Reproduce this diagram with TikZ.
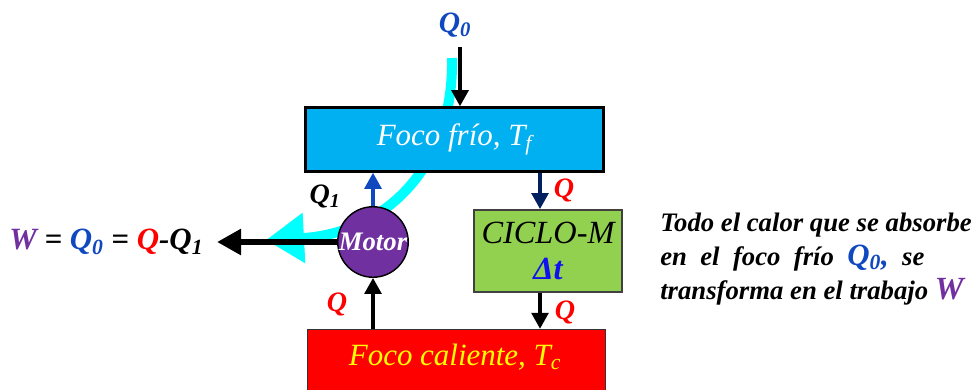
\documentclass[tikz,border=0pt]{standalone}
\usepackage{fontspec}
\setmainfont{Liberation Serif}
\usetikzlibrary{arrows.meta, positioning}
\definecolor{cFrio}{HTML}{00B0F0}
\definecolor{cCaliente}{HTML}{FF0000}
\definecolor{cCiclo}{HTML}{92D050}
\definecolor{cMotor}{HTML}{7030A0}
\definecolor{cAzul}{HTML}{1048C0}
\definecolor{cDelta}{HTML}{1010F0}
\definecolor{cMarino}{HTML}{002060}
\definecolor{cFlujo}{HTML}{00FFFF}
\definecolor{cAmarillo}{HTML}{FFFF00}
\tikzset{
  foco/.style={draw, line width=1.8pt, minimum width=7.45cm, minimum height=1.6cm,
               inner sep=0pt, font=\fontsize{22}{26}\selectfont\itshape},
  ciclobox/.style={draw=black!75, line width=1.3pt, fill=cCiclo, minimum width=3.7cm,
                   minimum height=2.05cm, inner sep=0pt, align=center,
                   font=\fontsize{23}{28}\selectfont\itshape},
  motorcirc/.style={draw, circle, line width=1pt, fill=cMotor, minimum size=1.75cm,
                    inner sep=0pt, text=white, font=\fontsize{19}{22}\selectfont\bfseries\itshape},
  etq/.style={font=\fontsize{20}{24}\selectfont\bfseries\itshape, inner sep=0pt},
  flecha/.style={line width=2.4pt, -{Triangle[length=0.4cm, width=0.42cm]}},
}
\begin{document}
\begin{tikzpicture}[x=0.025cm, y=-0.025cm]
    \useasboundingbox (0,0) rectangle (978,389);
    % flujo de calor (banda)
    \coordinate (flujoIni) at (452,58);
    \coordinate (flujoFin) at (266,240);
    \draw[cFlujo, line width=0.25cm, -{Triangle[length=0.95cm, width=1.2cm]}]
      (flujoIni) .. controls (454,172) and (380,234) .. (flujoFin);
    % focos y ciclo
    \node[foco, fill=cFrio, text=white] (frio) at (454.5,139.5) {Foco frío, T\textsubscript{\itshape f}};
    \node[foco, fill=cCaliente, text=cAmarillo, line width=1pt, draw=black!80] (caliente) at (456.5,361.5) {};
    \node[text=cAmarillo, font=\fontsize{22}{26}\selectfont\itshape] (calTxt) at (455,357) {Foco caliente, T\textsubscript{\itshape c}};
    \node[ciclobox] (ciclo) at (548,251) {CICLO-M\\[-2pt]{\color{cDelta}\bfseries Δt}};
    \node[motorcirc] (motor) at (373,242) {Motor};
    % etiquetas
    \node[etq, text=cAzul, font=\fontsize{21}{24}\selectfont\bfseries\itshape] (q0) at (455,25) {Q\textsubscript{0}};
    \node[etq] (q1) at (325,196) {Q\textsubscript{1}};
    \node[etq, text=red] (qMot) at (337,304) {Q};
    \node[etq, text=red] (qCicA) at (564,190) {Q};
    \node[etq, text=red] (qCicB) at (565,312) {Q};
    \node[anchor=west, inner sep=0pt, font=\fontsize{22}{24}\selectfont\bfseries\itshape] (trabajo) at (9,242)
      {{\color{cMotor}W} = {\color{cAzul}Q\textsubscript{0}} = {\color{red}Q}-Q\textsubscript{1}};
    \node[anchor=north west, inner sep=0pt, align=left,
          font=\fontsize{19}{24}\selectfont\bfseries\itshape] (texto) at (660,213)
      {Todo el calor que se absorbe\\
       en\ \ el\ \ foco\ \ frío\ \ {\fontsize{22}{24}\selectfont\color{cAzul}Q\textsubscript{0},}\ \ se\\
       transforma en el trabajo {\fontsize{23}{24}\selectfont\color{cMotor}W}};
    % flechas
    \coordinate (entra) at (460,47);
    \coordinate (salida) at (217,242);
    \draw[flecha] (entra) -- (entra |- frio.north);
    \draw[flecha, cAzul] (motor.north) -- (motor.north |- frio.south);
    \draw[flecha] (motor.south |- caliente.north) -- (motor.south);
    \draw[flecha, cMarino] ([xshift=-0.2cm]ciclo.north |- frio.south) -- ([xshift=-0.2cm]ciclo.north);
    \draw[flecha] ([xshift=-0.2cm]ciclo.south) -- ([xshift=-0.2cm]ciclo.south |- caliente.north);
    \draw[line width=0.15cm, -{Triangle[length=0.6cm, width=0.62cm]}] (motor.west) -- (salida);
  \end{tikzpicture}
\end{document}
